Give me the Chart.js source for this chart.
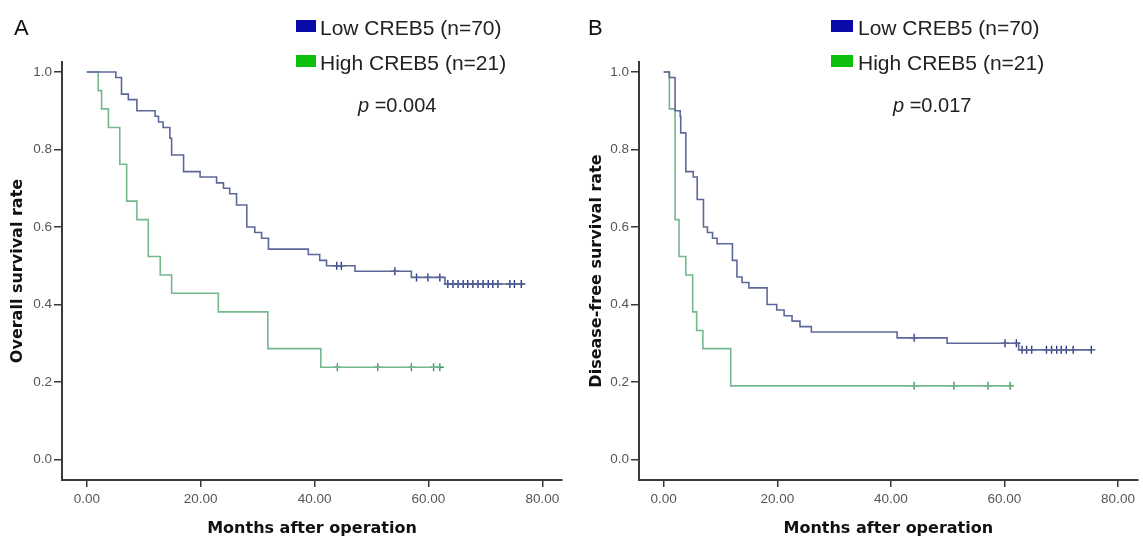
<!DOCTYPE html>
<html lang="en">
<head>
    <meta charset="UTF-8">
    <title>CREB5 survival curves</title>
    <style>
        body { margin: 0; background: #fff; font-family: "Liberation Sans", Arial, sans-serif; }
        #wrap { position: relative; width: 1143px; height: 538px; overflow: hidden; background: #fff; }
        canvas { position: absolute; top: 0; }
        .letter { position: absolute; top: 17px; font-size: 22px; line-height: 22px; color: #111; }
        .box { position: absolute; width: 20px; height: 12px; }
        .key { position: absolute; font-size: 21px; line-height: 21px; color: #222; white-space: nowrap; }
        .pval { position: absolute; top: 95px; font-size: 20px; line-height: 20px; color: #222; white-space: nowrap; }
    </style>
    <script src="https://cdn.jsdelivr.net/npm/chart.js@4.4.1/dist/chart.umd.min.js"></script>
</head>
<body>
<div id="wrap">
    <canvas id="chartA" width="571" height="538" style="left:0"></canvas>
    <canvas id="chartB" width="566" height="538" style="left:577px"></canvas>

    <div class="letter" style="left:14px">A</div>
    <div class="box" style="left:296px; top:20px; background:#0a0aa8"></div>
    <div class="key" style="left:320px; top:17px">Low CREB5 (n=70)</div>
    <div class="box" style="left:296px; top:55px; background:#0cc00c"></div>
    <div class="key" style="left:320px; top:52px">High CREB5 (n=21)</div>
    <div class="pval" style="left:358px"><i>p</i> =0.004</div>

    <div class="letter" style="left:588px">B</div>
    <div class="box" style="left:831px; top:20px; width:22px; background:#0a0aa8"></div>
    <div class="key" style="left:858px; top:17px">Low CREB5 (n=70)</div>
    <div class="box" style="left:831px; top:55px; width:22px; background:#0cc00c"></div>
    <div class="key" style="left:858px; top:52px">High CREB5 (n=21)</div>
    <div class="pval" style="left:893px"><i>p</i> =0.017</div>
</div>

<script>
    // axis ticks
    const xTicks = [0, 20, 40, 60, 80];
    const yTicks = [0, 0.2, 0.4, 0.6, 0.8, 1.0];

    // A - overall survival
    const lowATimes = [0, 5.1, 6.1, 7.3, 8.8, 12.0, 12.6, 13.4, 14.6, 14.9, 17.0, 19.9, 22.8, 24.0, 25.1, 26.3, 28.1, 29.5, 30.7, 31.9, 38.9, 40.9, 42.1, 47.1, 57.0, 62.9, 76.3];
    const lowAValues = [1, 0.986, 0.943, 0.929, 0.900, 0.886, 0.871, 0.857, 0.829, 0.786, 0.743, 0.729, 0.714, 0.700, 0.686, 0.657, 0.600, 0.586, 0.571, 0.543, 0.529, 0.514, 0.500, 0.486, 0.470, 0.453, 0.453];
    const lowACensored = [43.9, 44.7, 54.1, 57.9, 59.9, 62.0, 63.4, 64.3, 65.2, 66.1, 66.9, 67.8, 68.7, 69.6, 70.5, 71.3, 72.2, 74.3, 75.1, 76.3];
    const highATimes = [0, 2.0, 2.6, 3.8, 5.8, 7.0, 8.8, 10.8, 12.9, 14.9, 23.1, 31.8, 41.1, 62.0];
    const highAValues = [1, 0.952, 0.905, 0.857, 0.762, 0.667, 0.619, 0.524, 0.476, 0.429, 0.381, 0.286, 0.238, 0.238];
    const highACensored = [44.0, 51.1, 57.0, 60.9, 62.0];

    // B - disease-free survival
    const lowBTimes = [0, 1.0, 2.0, 2.9, 3.0, 3.9, 5.2, 5.9, 7.0, 7.7, 8.6, 9.4, 12.1, 12.9, 13.8, 15.0, 18.2, 19.9, 21.2, 22.6, 24.0, 26.0, 41.1, 49.9, 62.5, 75.3];
    const lowBValues = [1, 0.986, 0.900, 0.886, 0.843, 0.743, 0.729, 0.671, 0.600, 0.586, 0.571, 0.557, 0.514, 0.471, 0.457, 0.443, 0.400, 0.386, 0.371, 0.357, 0.343, 0.329, 0.314, 0.300, 0.283, 0.283];
    const lowBCensored = [44.1, 60.1, 62.1, 63.1, 63.9, 64.8, 67.4, 68.3, 69.2, 70.0, 70.9, 72.1, 75.3];
    const highBTimes = [0, 1.0, 2.0, 2.7, 3.9, 5.1, 5.8, 6.9, 11.8, 61.0];
    const highBValues = [1, 0.905, 0.619, 0.524, 0.476, 0.381, 0.333, 0.286, 0.190, 0.190];
    const highBCensored = [44.1, 51.1, 57.1, 61.0];

    const lowLine = '#5d6899', lowMark = '#2c3d85';
    const highLine = '#74b88e', highMark = '#3d9a5c';
    const axisColor = '#3a3a3a';

    // value of the step curve at time t
    function survAt(times, vals, t) {
        let v = vals[0];
        for (let i = 0; i < times.length; i++) {
            if (times[i] <= t) v = vals[i];
        }
        return v;
    }

    function curve(times, vals, color) {
        return {
            data: times.map((t, i) => ({ x: t, y: vals[i] })),
            showLine: true, stepped: 'before',
            borderColor: color, borderWidth: 1.6,
            pointRadius: 0, fill: false
        };
    }

    function marks(times, vals, censored, color) {
        return {
            data: censored.map(t => ({ x: t, y: survAt(times, vals, t) })),
            showLine: false, pointStyle: 'cross',
            pointRadius: 4, borderColor: color, borderWidth: 1.4
        };
    }

    function makeChart(id, yTitle, titlePad, rightPad, datasets) {
        new Chart(document.getElementById(id), {
            type: 'scatter',
            data: { datasets: datasets },
            options: {
                responsive: false,
                animation: false,
                layout: { padding: { top: 62, right: rightPad, left: 0, bottom: 0 } },
                plugins: { legend: { display: false }, tooltip: { enabled: false } },
                scales: {
                    x: {
                        type: 'linear', min: -4.35, max: 83.45,
                        afterBuildTicks: s => { s.ticks = xTicks.map(v => ({ value: v })); },
                        afterFit: s => { s.height = 58; },
                        grid: { display: true, drawOnChartArea: false, drawTicks: true, tickLength: 7, color: axisColor, lineWidth: 1.5 },
                        border: { display: true, color: axisColor, width: 2 },
                        ticks: {
                            color: '#555', padding: 4, maxRotation: 0,
                            font: { family: '"Liberation Sans", Arial, sans-serif', size: 13.5 },
                            callback: v => Number(v).toFixed(2)
                        },
                        title: {
                            display: true, text: 'Months after operation', color: '#111',
                            font: { family: '"DejaVu Sans", Verdana, sans-serif', size: 16, weight: 'bold' },
                            padding: { top: 0, bottom: 0 }
                        }
                    },
                    y: {
                        type: 'linear', min: -0.053, max: 1.026,
                        afterBuildTicks: s => { s.ticks = yTicks.map(v => ({ value: v })); },
                        afterFit: s => { s.width = 62; },
                        grid: { display: true, drawOnChartArea: false, drawTicks: true, tickLength: 8, color: axisColor, lineWidth: 1.5 },
                        border: { display: true, color: axisColor, width: 2 },
                        ticks: {
                            color: '#555', padding: 2,
                            font: { family: '"Liberation Sans", Arial, sans-serif', size: 13.5 },
                            callback: v => Number(v).toFixed(1)
                        },
                        title: {
                            display: true, text: yTitle, color: '#111',
                            font: { family: '"DejaVu Sans", Verdana, sans-serif', size: 16, weight: 'bold' },
                            padding: { top: titlePad, bottom: 0 }
                        }
                    }
                }
            }
        });
    }

    makeChart('chartA', 'Overall survival rate', 8, 9, [
        curve(lowATimes, lowAValues, lowLine),
        curve(highATimes, highAValues, highLine),
        marks(lowATimes, lowAValues, lowACensored, lowMark),
        marks(highATimes, highAValues, highACensored, highMark)
    ]);

    makeChart('chartB', 'Disease-free survival rate', 10, 1, [
        curve(lowBTimes, lowBValues, lowLine),
        curve(highBTimes, highBValues, highLine),
        marks(lowBTimes, lowBValues, lowBCensored, lowMark),
        marks(highBTimes, highBValues, highBCensored, highMark)
    ]);
</script>
</body>
</html>
